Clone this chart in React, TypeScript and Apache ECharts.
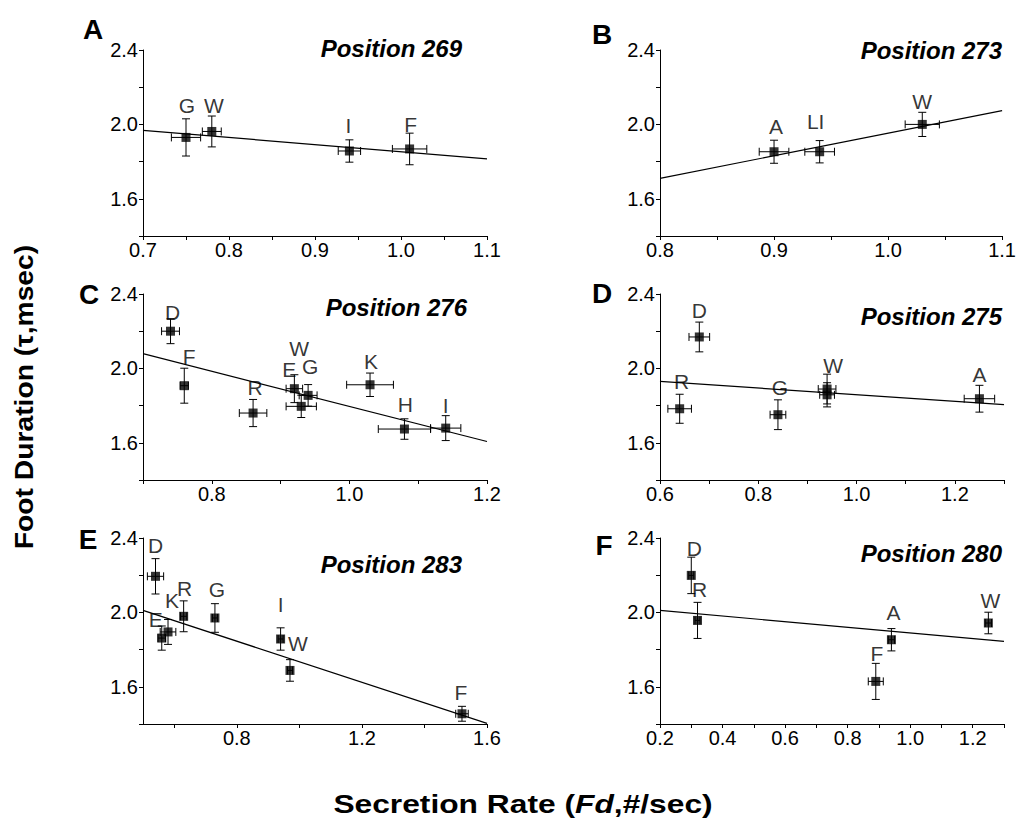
import React, { useEffect, useRef } from 'react';
import * as echarts from 'echarts';

const FONT = '"Liberation Sans", Arial, Helvetica, sans-serif';

// ---- Position 269 ----
const p269Names = ['G', 'W', 'I', 'F'];
const p269X = [0.75, 0.78, 0.94, 1.01];
const p269Y = [1.93, 1.962, 1.857, 1.868];
const p269XErr = [0.017, 0.011, 0.013, 0.02];
const p269YErr = [0.1, 0.083, 0.06, 0.085];
const p269Fit = [[0.7, 1.968], [1.1, 1.815]];
const p269XTicks = [0.7, 0.75, 0.8, 0.85, 0.9, 0.95, 1.0, 1.05, 1.1];
const p269XLabels = [0.7, 0.8, 0.9, 1.0, 1.1];

// ---- Position 273 ----
const p273Names = ['A', 'LI', 'W'];
const p273X = [0.9, 0.94, 1.03];
const p273Y = [1.853, 1.853, 2.0];
const p273XErr = [0.013, 0.013, 0.015];
const p273YErr = [0.062, 0.06, 0.065];
const p273Fit = [[0.8, 1.71], [1.1, 2.074]];
const p273XTicks = [0.8, 0.85, 0.9, 0.95, 1.0, 1.05, 1.1];
const p273XLabels = [0.8, 0.9, 1.0, 1.1];

// ---- Position 276 ----
const p276Names = ['D', 'F', 'R', 'E', 'W', 'G', 'K', 'H', 'I'];
const p276X = [0.74, 0.76, 0.86, 0.92, 0.93, 0.94, 1.03, 1.08, 1.14];
const p276Y = [2.2, 1.907, 1.76, 1.891, 1.796, 1.855, 1.912, 1.674, 1.679];
const p276XErr = [0.013, 0.006, 0.02, 0.012, 0.022, 0.013, 0.034, 0.038, 0.022];
const p276YErr = [0.067, 0.094, 0.073, 0.075, 0.06, 0.058, 0.063, 0.055, 0.067];
const p276Fit = [[0.7, 2.079], [1.2, 1.607]];
const p276XTicks = [0.7, 0.8, 0.9, 1.0, 1.1, 1.2];
const p276XLabels = [0.8, 1.0, 1.2];

// ---- Position 275 ----
const p275Names = ['R', 'D', 'G', 'W', '', 'A'];
const p275X = [0.64, 0.68, 0.84, 0.94, 0.94, 1.25];
const p275Y = [1.783, 2.169, 1.751, 1.889, 1.858, 1.837];
const p275XErr = [0.024, 0.021, 0.016, 0.018, 0.015, 0.031];
const p275YErr = [0.078, 0.08, 0.08, 0.08, 0.065, 0.072];
const p275Fit = [[0.6, 1.93], [1.3, 1.805]];
const p275XTicks = [0.6, 0.7, 0.8, 0.9, 1.0, 1.1, 1.2, 1.3];
const p275XLabels = [0.6, 0.8, 1.0, 1.2];

// ---- Position 283 ----
const p283Names = ['D', 'E', 'K', 'R', 'G', 'I', 'W', 'F'];
const p283X = [0.54, 0.56, 0.58, 0.63, 0.73, 0.94, 0.97, 1.52];
const p283Y = [2.194, 1.862, 1.895, 1.979, 1.97, 1.857, 1.688, 1.455];
const p283XErr = [0.026, 0.012, 0.025, 0.01, 0.008, 0.008, 0.008, 0.02];
const p283YErr = [0.095, 0.065, 0.067, 0.083, 0.077, 0.06, 0.058, 0.04];
const p283Fit = [[0.5, 2.011], [1.6, 1.403]];
const p283XTicks = [0.6, 0.8, 1.0, 1.2, 1.4, 1.6];
const p283XLabels = [0.8, 1.2, 1.6];

// ---- Position 280 ----
const p280Names = ['D', 'R', 'F', 'A', 'W'];
const p280X = [0.3, 0.32, 0.89, 0.94, 1.25];
const p280Y = [2.199, 1.957, 1.629, 1.853, 1.943];
const p280XErr = [0.008, 0.008, 0.024, 0.01, 0.01];
const p280YErr = [0.098, 0.097, 0.097, 0.06, 0.058];
const p280Fit = [[0.2, 2.011], [1.3, 1.844]];
const p280XTicks = [0.2, 0.3, 0.4, 0.5, 0.6, 0.7, 0.8, 0.9, 1.0, 1.1, 1.2, 1.3];
const p280XLabels = [0.2, 0.4, 0.6, 0.8, 1.0, 1.2];

// Shared y axis
const yMin = 1.4;
const yMax = 2.4;
const yTicks = [1.4, 1.6, 1.8, 2.0, 2.2, 2.4];
const yLabels = [1.6, 2.0, 2.4];

// Letter label offsets (px from marker centre)
const p269LabelOffsets = [[1, -32], [2, -26], [-1, -25], [1, -24]];
const p273LabelOffsets = [[2, -25], [-4, -30], [0, -23]];
const p276LabelOffsets = [[2, -19], [5, -29], [2, -26], [-5, -19], [-2, -58], [2, -29], [1, -23], [1, -25], [0, -23]];
const p275LabelOffsets = [[2, -27], [0, -26], [2, -27], [6, -24], [0, 0], [0, -24]];
const p283LabelOffsets = [[0, -31], [-6, -19], [4, -31], [1, -28], [2, -28], [0, -34], [8, -27], [-1, -21]];
const p280LabelOffsets = [[3, -27], [2, -31], [1, -28], [2, -27], [2, -23]];

const panels = [
  { letter: 'A', title: 'Position 269', names: p269Names, x: p269X, y: p269Y, xErr: p269XErr, yErr: p269YErr, fit: p269Fit, xTicks: p269XTicks, xLabels: p269XLabels, offsets: p269LabelOffsets },
  { letter: 'B', title: 'Position 273', names: p273Names, x: p273X, y: p273Y, xErr: p273XErr, yErr: p273YErr, fit: p273Fit, xTicks: p273XTicks, xLabels: p273XLabels, offsets: p273LabelOffsets },
  { letter: 'C', title: 'Position 276', names: p276Names, x: p276X, y: p276Y, xErr: p276XErr, yErr: p276YErr, fit: p276Fit, xTicks: p276XTicks, xLabels: p276XLabels, offsets: p276LabelOffsets },
  { letter: 'D', title: 'Position 275', names: p275Names, x: p275X, y: p275Y, xErr: p275XErr, yErr: p275YErr, fit: p275Fit, xTicks: p275XTicks, xLabels: p275XLabels, offsets: p275LabelOffsets },
  { letter: 'E', title: 'Position 283', names: p283Names, x: p283X, y: p283Y, xErr: p283XErr, yErr: p283YErr, fit: p283Fit, xTicks: p283XTicks, xLabels: p283XLabels, offsets: p283LabelOffsets },
  { letter: 'F', title: 'Position 280', names: p280Names, x: p280X, y: p280Y, xErr: p280XErr, yErr: p280YErr, fit: p280Fit, xTicks: p280XTicks, xLabels: p280XLabels, offsets: p280LabelOffsets },
];

// Panel placement: plot boxes, panel letters and in-plot titles
const gridBoxes = [
  { left: 143, top: 50 }, { left: 660, top: 50 },
  { left: 143, top: 294 }, { left: 660, top: 294 },
  { left: 143, top: 538 }, { left: 660, top: 538 },
];
const GRID_W = 344;
const GRID_H = 186;
const letterPos = [[93, 29], [602, 34], [89, 294], [602, 293], [88, 539], [604, 545]];
const titlePos = [[462, 48], [1002, 50], [467, 307], [1002, 316], [462, 564], [1002, 553]];

function errorBarRenderer(params: any, api: any) {
  const x = api.value(0);
  const y = api.value(1);
  const xe = api.value(2);
  const ye = api.value(3);
  const c = api.coord([x, y]);
  const top = api.coord([x, y + ye]);
  const bot = api.coord([x, y - ye]);
  const lft = api.coord([x - xe, y]);
  const rgt = api.coord([x + xe, y]);
  const cap = 4;
  const style = { stroke: '#000', lineWidth: 1, fill: 'none' };
  return {
    type: 'group',
    children: [
      { type: 'line', shape: { x1: c[0], y1: top[1], x2: c[0], y2: bot[1] }, style },
      { type: 'line', shape: { x1: c[0] - cap, y1: top[1], x2: c[0] + cap, y2: top[1] }, style },
      { type: 'line', shape: { x1: c[0] - cap, y1: bot[1], x2: c[0] + cap, y2: bot[1] }, style },
      { type: 'line', shape: { x1: lft[0], y1: c[1], x2: rgt[0], y2: c[1] }, style },
      { type: 'line', shape: { x1: lft[0], y1: c[1] - cap, x2: lft[0], y2: c[1] + cap }, style },
      { type: 'line', shape: { x1: rgt[0], y1: c[1] - cap, x2: rgt[0], y2: c[1] + cap }, style },
    ],
  };
}

function buildOption() {
  const grid: any[] = [];
  const xAxis: any[] = [];
  const yAxis: any[] = [];
  const series: any[] = [];
  const graphic: any[] = [];

  panels.forEach((p, i) => {
    grid.push({ left: gridBoxes[i].left, top: gridBoxes[i].top, width: GRID_W, height: GRID_H, containLabel: false });
    xAxis.push({
      gridIndex: i,
      type: 'value',
      min: p.fit[0][0],
      max: p.fit[1][0],
      axisLine: { show: true, onZero: false, lineStyle: { color: '#000', width: 1 } },
      axisTick: { show: true, inside: false, length: 4, customValues: p.xTicks, lineStyle: { color: '#000', width: 1 } },
      axisLabel: {
        customValues: p.xLabels,
        formatter: (v: number) => v.toFixed(1),
        fontSize: 20,
        color: '#000',
        margin: 4,
        fontFamily: FONT,
      },
      splitLine: { show: false },
    });
    yAxis.push({
      gridIndex: i,
      type: 'value',
      min: yMin,
      max: yMax,
      axisLine: { show: true, onZero: false, lineStyle: { color: '#000', width: 1 } },
      axisTick: { show: true, inside: false, length: 4, customValues: yTicks, lineStyle: { color: '#000', width: 1 } },
      axisLabel: {
        customValues: yLabels,
        formatter: (v: number) => v.toFixed(1),
        fontSize: 20,
        color: '#000',
        margin: 5,
        fontFamily: FONT,
      },
      splitLine: { show: false },
    });

    series.push({
      type: 'line',
      xAxisIndex: i,
      yAxisIndex: i,
      data: p.fit,
      symbol: 'none',
      silent: true,
      lineStyle: { color: '#000', width: 1.2 },
      z: 1,
    });
    series.push({
      type: 'custom',
      xAxisIndex: i,
      yAxisIndex: i,
      renderItem: errorBarRenderer,
      encode: { x: 0, y: 1 },
      data: p.x.map((xv, k) => [xv, p.y[k], p.xErr[k], p.yErr[k]]),
      silent: true,
      z: 2,
    });
    series.push({
      type: 'scatter',
      xAxisIndex: i,
      yAxisIndex: i,
      symbol: 'rect',
      symbolSize: 9,
      itemStyle: { color: '#000' },
      z: 3,
      label: {
        show: true,
        position: 'inside',
        formatter: '{b}',
        color: '#000',
        fontSize: 21,
        fontFamily: FONT,
        textBorderWidth: 0,
      },
      data: p.x.map((xv, k) => ({
        name: p.names[k],
        value: [xv, p.y[k]],
        label: { offset: p.offsets[k] },
      })),
    });

    graphic.push({
      type: 'text',
      x: letterPos[i][0],
      y: letterPos[i][1],
      style: {
        text: p.letter,
        font: `bold 28px ${FONT}`,
        fill: '#000',
        textAlign: 'center',
        textVerticalAlign: 'middle',
      },
    });
    graphic.push({
      type: 'text',
      x: titlePos[i][0],
      y: titlePos[i][1],
      style: {
        text: p.title,
        font: `italic bold 24px ${FONT}`,
        fill: '#000',
        textAlign: 'right',
        textVerticalAlign: 'middle',
      },
    });
  });

  // Axis titles
  graphic.push({
    type: 'text',
    x: 25,
    y: 397,
    rotation: Math.PI / 2,
    scaleX: 1.13,
    style: {
      text: 'Foot Duration (τ,msec)',
      font: `bold 25px ${FONT}`,
      fill: '#000',
      textAlign: 'center',
      textVerticalAlign: 'middle',
    },
  });
  graphic.push({
    type: 'text',
    x: 523,
    y: 804,
    scaleX: 1.27,
    style: {
      text: '{b|Secretion Rate (}{i|Fd}{b|,#/sec)}',
      textAlign: 'center',
      textVerticalAlign: 'middle',
      rich: {
        b: { fontFamily: FONT, fontWeight: 'bold', fontSize: 25, fill: '#000' },
        i: { fontFamily: FONT, fontWeight: 'bold', fontStyle: 'italic', fontSize: 25, fill: '#000' },
      },
    },
  });

  return {
    animation: false,
    backgroundColor: '#fff',
    grid,
    xAxis,
    yAxis,
    series,
    graphic,
  };
}

export default function App() {
  const ref = useRef<HTMLDivElement>(null);
  useEffect(() => {
    if (!ref.current) return;
    const chart = echarts.init(ref.current, undefined, { renderer: 'svg' });
    chart.setOption(buildOption() as any);
    return () => chart.dispose();
  }, []);
  return (
    <div
      ref={ref}
      style={{ position: 'absolute', left: 0, top: 0, width: 1019, height: 825, background: '#fff' }}
    />
  );
}
